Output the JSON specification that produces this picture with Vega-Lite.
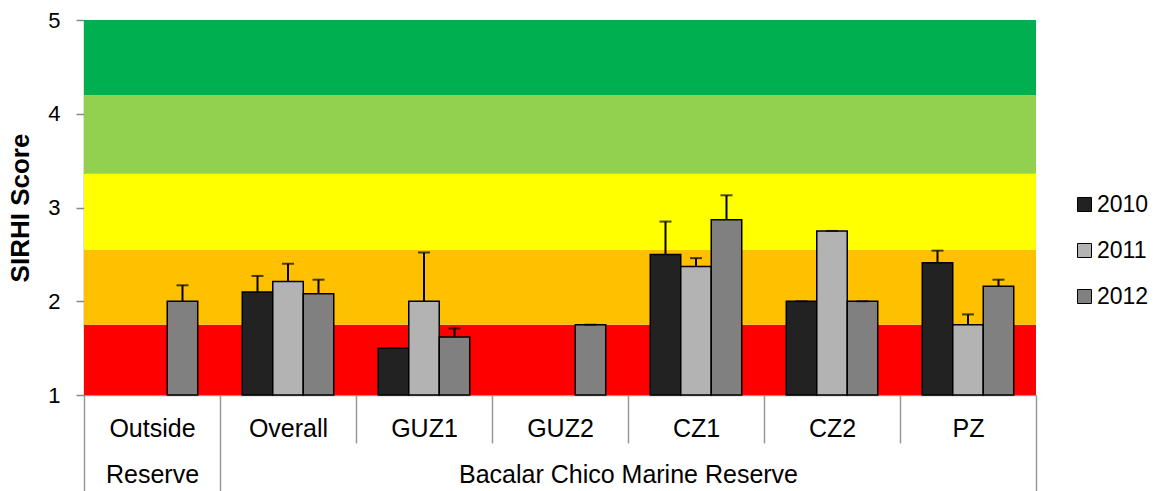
{
  "$schema": "https://vega.github.io/schema/vega-lite/v6.json",
  "width": 952,
  "height": 375,
  "autosize": "none",
  "padding": {"left": 84, "top": 20, "right": 126, "bottom": 96},
  "background": "white",
  "config": {"view": {"stroke": null}, "font": "Liberation Sans"},
  "datasets": {
    "bands": [
      {"level": "Critical", "lo": 1, "hi": 1.75},
      {"level": "Poor", "lo": 1.75, "hi": 2.55},
      {"level": "Fair", "lo": 2.55, "hi": 3.36},
      {"level": "Good", "lo": 3.36, "hi": 4.2},
      {"level": "Very Good", "lo": 4.2, "hi": 5}
    ],
    "scores": [
      {"site": "Outside", "year": "2012", "value": 2.0, "upper": 2.17},
      {"site": "Overall", "year": "2010", "value": 2.10, "upper": 2.27},
      {"site": "Overall", "year": "2011", "value": 2.21, "upper": 2.40},
      {"site": "Overall", "year": "2012", "value": 2.08, "upper": 2.23},
      {"site": "GUZ1", "year": "2010", "value": 1.5, "upper": 1.5},
      {"site": "GUZ1", "year": "2011", "value": 2.0, "upper": 2.52},
      {"site": "GUZ1", "year": "2012", "value": 1.62, "upper": 1.71},
      {"site": "GUZ2", "year": "2012", "value": 1.75, "upper": 1.75},
      {"site": "CZ1", "year": "2010", "value": 2.5, "upper": 2.85},
      {"site": "CZ1", "year": "2011", "value": 2.37, "upper": 2.46},
      {"site": "CZ1", "year": "2012", "value": 2.87, "upper": 3.13},
      {"site": "CZ2", "year": "2010", "value": 2.0, "upper": 2.0},
      {"site": "CZ2", "year": "2011", "value": 2.75, "upper": 2.75},
      {"site": "CZ2", "year": "2012", "value": 2.0, "upper": 2.0},
      {"site": "PZ", "year": "2010", "value": 2.41, "upper": 2.54},
      {"site": "PZ", "year": "2011", "value": 1.75, "upper": 1.86},
      {"site": "PZ", "year": "2012", "value": 2.16, "upper": 2.23}
    ],
    "regions": [
      {"region": "Reserve", "pos": 0.5},
      {"region": "Bacalar Chico Marine Reserve", "pos": 4}
    ]
  },
  "layer": [
    {
      "layer": [
        {
          "data": {"name": "bands"},
          "mark": {"type": "rect"},
          "encoding": {
            "y": {
              "field": "lo", "type": "quantitative",
              "scale": {"domain": [1, 5], "nice": false, "zero": false},
              "axis": {
                "title": "SIRHI Score", "values": [1, 2, 3, 4, 5], "format": "d", "grid": false,
                "titleFontSize": 26, "titleFontWeight": "bold", "titleColor": "black",
                "labelFontSize": 22, "labelColor": "black",
                "tickColor": "#888888", "tickSize": 8, "tickWidth": 1.5,
                "domainColor": "#888888", "domainWidth": 1.5,
                "labelPadding": 16, "titlePadding": 14
              }
            },
            "y2": {"field": "hi"},
            "color": {
              "field": "level", "type": "nominal",
              "scale": {"domain": ["Critical", "Poor", "Fair", "Good", "Very Good"],
                        "range": ["#ff0000", "#ffc000", "#ffff00", "#92d050", "#00b050"]},
              "legend": null
            }
          }
        },
        {
          "data": {"name": "scores"},
          "mark": {"type": "bar", "stroke": "black", "strokeWidth": 1.5},
          "encoding": {
            "x": {
              "field": "site", "type": "nominal",
              "sort": ["Outside", "Overall", "GUZ1", "GUZ2", "CZ1", "CZ2", "PZ"],
              "scale": {"paddingInner": 0, "paddingOuter": 0},
              "axis": {
                "orient": "bottom", "title": null, "labelAngle": 0,
                "labelFontSize": 25, "labelColor": "black", "labelFlush": false,
                "tickBand": "extent",
                "tickSize": {"condition": {"test": "datum.value == null || datum.value === 'Outside' || datum.value === 'PZ'", "value": 96}, "value": 48},
                "tickColor": "#999999", "tickWidth": 1.5,
                "domainColor": "#999999", "domainWidth": 1.5,
                "labelPadding": {"condition": {"test": "datum.value == null || datum.value === 'Outside' || datum.value === 'PZ'", "value": -75}, "value": -27}
              }
            },
            "xOffset": {
              "field": "year", "type": "nominal",
              "scale": {"domain": ["2010", "2011", "2012"], "paddingInner": 0, "paddingOuter": 0.73}
            },
            "y": {"field": "value", "type": "quantitative"},
            "y2": {"datum": 1},
            "fill": {
              "field": "year", "type": "nominal",
              "scale": {"domain": ["2010", "2011", "2012"], "range": ["#222222", "#b3b3b3", "#808080"]},
              "legend": {
                "title": null, "orient": "none", "legendX": 989, "legendY": 173,
                "labelFontSize": 23, "labelColor": "black",
                "symbolType": "square", "symbolSize": 196,
                "symbolStrokeColor": "black", "symbolStrokeWidth": 1,
                "rowPadding": 22, "labelOffset": 1
              }
            }
          }
        },
        {
          "data": {"name": "scores"},
          "mark": {"type": "rule", "color": "black", "strokeWidth": 2},
          "encoding": {
            "x": {"field": "site", "type": "nominal", "sort": ["Outside", "Overall", "GUZ1", "GUZ2", "CZ1", "CZ2", "PZ"]},
            "xOffset": {"field": "year", "type": "nominal"},
            "y": {"field": "value", "type": "quantitative"},
            "y2": {"field": "upper"}
          }
        },
        {
          "data": {"name": "scores"},
          "mark": {"type": "tick", "color": "black", "thickness": 2, "size": 12, "orient": "horizontal"},
          "encoding": {
            "x": {"field": "site", "type": "nominal", "sort": ["Outside", "Overall", "GUZ1", "GUZ2", "CZ1", "CZ2", "PZ"]},
            "xOffset": {"field": "year", "type": "nominal"},
            "y": {"field": "upper", "type": "quantitative"}
          }
        }
      ]
    },
    {
      "data": {"name": "regions"},
      "mark": {"type": "text", "opacity": 0},
      "encoding": {
        "x": {
          "field": "pos", "type": "quantitative",
          "scale": {"domain": [0, 7], "nice": false, "zero": false},
          "axis": {
            "orient": "bottom", "values": [0.5, 4], "title": null, "grid": false,
            "labelExpr": "datum.value == 0.5 ? 'Reserve' : 'Bacalar Chico Marine Reserve'",
            "domain": false, "ticks": false, "tickSize": 0,
            "labelFontSize": 25, "labelColor": "black", "labelPadding": 67,
            "labelFlush": false, "labelOverlap": false, "labelLimit": 1000
          }
        },
        "text": {"field": "region"}
      }
    }
  ],
  "resolve": {"scale": {"x": "independent"}}
}
